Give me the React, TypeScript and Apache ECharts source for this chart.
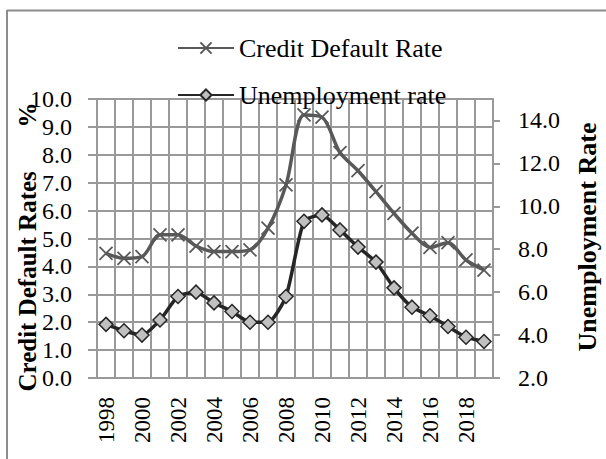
import React, { useEffect, useRef } from "react";
import * as echarts from "echarts";

const years = ["1998","1999","2000","2001","2002","2003","2004","2005","2006","2007","2008","2009","2010","2011","2012","2013","2014","2015","2016","2017","2018","2019"];
const creditDefault = [4.47, 4.29, 4.35, 5.13, 5.13, 4.73, 4.53, 4.53, 4.59, 5.37, 6.92, 9.43, 9.35, 8.08, 7.43, 6.68, 5.9, 5.19, 4.68, 4.85, 4.23, 3.87];
const unemployment = [4.5, 4.2, 4.0, 4.7, 5.8, 6.0, 5.5, 5.1, 4.6, 4.6, 5.8, 9.3, 9.6, 8.9, 8.1, 7.4, 6.2, 5.3, 4.9, 4.4, 3.9, 3.7];
const rightTicks = [2, 4, 6, 8, 10, 12, 14];

const FONT = "'Liberation Serif', 'Times New Roman', serif";
const GRID = "#999999";

export default function App() {
  const ref = useRef<HTMLDivElement>(null);
  useEffect(() => {
    if (!ref.current) return;
    const chart = echarts.init(ref.current, undefined, { renderer: "svg" });
    chart.setOption({
      animation: false,
      backgroundColor: "#ffffff",
      textStyle: { fontFamily: FONT },
      grid: { left: 97, right: 113, top: 99, bottom: 81 },
      legend: {
        orient: "vertical",
        left: 177,
        top: 35,
        padding: 0,
        itemWidth: 56,
        itemHeight: 14,
        itemGap: 21,
        textStyle: { fontFamily: FONT, fontSize: 26, color: "#000" },
        data: ["Credit Default Rate", "Unemployment rate"],
      },
      xAxis: {
        type: "category",
        data: years,
        boundaryGap: true,
        axisLine: { show: true, lineStyle: { color: GRID, width: 2 } },
        axisTick: { show: false },
        splitLine: { show: true, interval: 0, lineStyle: { color: GRID, width: 2 } },
        axisLabel: {
          interval: 1,
          rotate: 90,
          margin: 19,
          fontFamily: FONT,
          fontSize: 23,
          color: "#000",
        },
      },
      yAxis: [
        {
          type: "value",
          min: 0,
          max: 10,
          interval: 1,
          axisLine: { show: true, lineStyle: { color: GRID, width: 2 } },
          axisTick: { show: true, length: 9, lineStyle: { color: GRID, width: 2 } },
          splitLine: { show: true, lineStyle: { color: GRID, width: 2 } },
          axisLabel: {
            margin: 25,
            fontFamily: FONT,
            fontSize: 24,
            color: "#000",
            formatter: (v: number) => v.toFixed(1),
          },
        },
        {
          type: "value",
          min: 2,
          max: 15,
          interval: 2,
          position: "right",
          axisLine: { show: true, lineStyle: { color: GRID, width: 2 } },
          axisTick: { show: true, length: 7, customValues: rightTicks, lineStyle: { color: GRID, width: 2 } },
          splitLine: { show: false },
          axisLabel: {
            margin: 25,
            fontFamily: FONT,
            fontSize: 24,
            color: "#000",
            customValues: rightTicks,
            formatter: (v: number) => v.toFixed(1),
          },
        },
      ],
      graphic: [
        { type: "line", shape: { x1: 7, y1: 10.5, x2: 606, y2: 10.5 }, style: { stroke: "#8c8c8c", lineWidth: 2 } },
        { type: "line", shape: { x1: 7, y1: 10, x2: 7, y2: 459 }, style: { stroke: "#8c8c8c", lineWidth: 2 } },
        {
          type: "text",
          x: 27,
          y: 247,
          rotation: Math.PI / 2,
          style: {
            text: "Credit Default Rates       %",
            font: `bold 25px ${FONT}`,
            fill: "#000",
            align: "center",
            verticalAlign: "middle",
          },
        },
        {
          type: "text",
          x: 587,
          y: 237,
          rotation: Math.PI / 2,
          style: {
            text: "Unemployment Rate",
            font: `bold 26px ${FONT}`,
            fill: "#000",
            align: "center",
            verticalAlign: "middle",
          },
        },
      ],
      series: [
        {
          name: "Credit Default Rate",
          type: "line",
          yAxisIndex: 0,
          data: creditDefault,
          smooth: 0.3,
          showAllSymbol: true,
          symbol: "path://M0,0L10,10M10,0L0,10",
          symbolSize: 13,
          lineStyle: { color: "#595959", width: 3.5 },
          itemStyle: { color: "#595959", borderColor: "#595959", borderWidth: 1.8 },
          z: 3,
        },
        {
          name: "Unemployment rate",
          type: "line",
          yAxisIndex: 1,
          data: unemployment,
          smooth: 0.2,
          showAllSymbol: true,
          symbol: "diamond",
          symbolSize: [14, 14],
          lineStyle: { color: "#262626", width: 3.5 },
          itemStyle: { color: "#c0c0c0", borderColor: "#262626", borderWidth: 1.5 },
          z: 4,
        },
      ],
    });
    return () => chart.dispose();
  }, []);
  return <div ref={ref} style={{ position: "fixed", left: 0, top: 0, width: 606, height: 459 }} />;
}
